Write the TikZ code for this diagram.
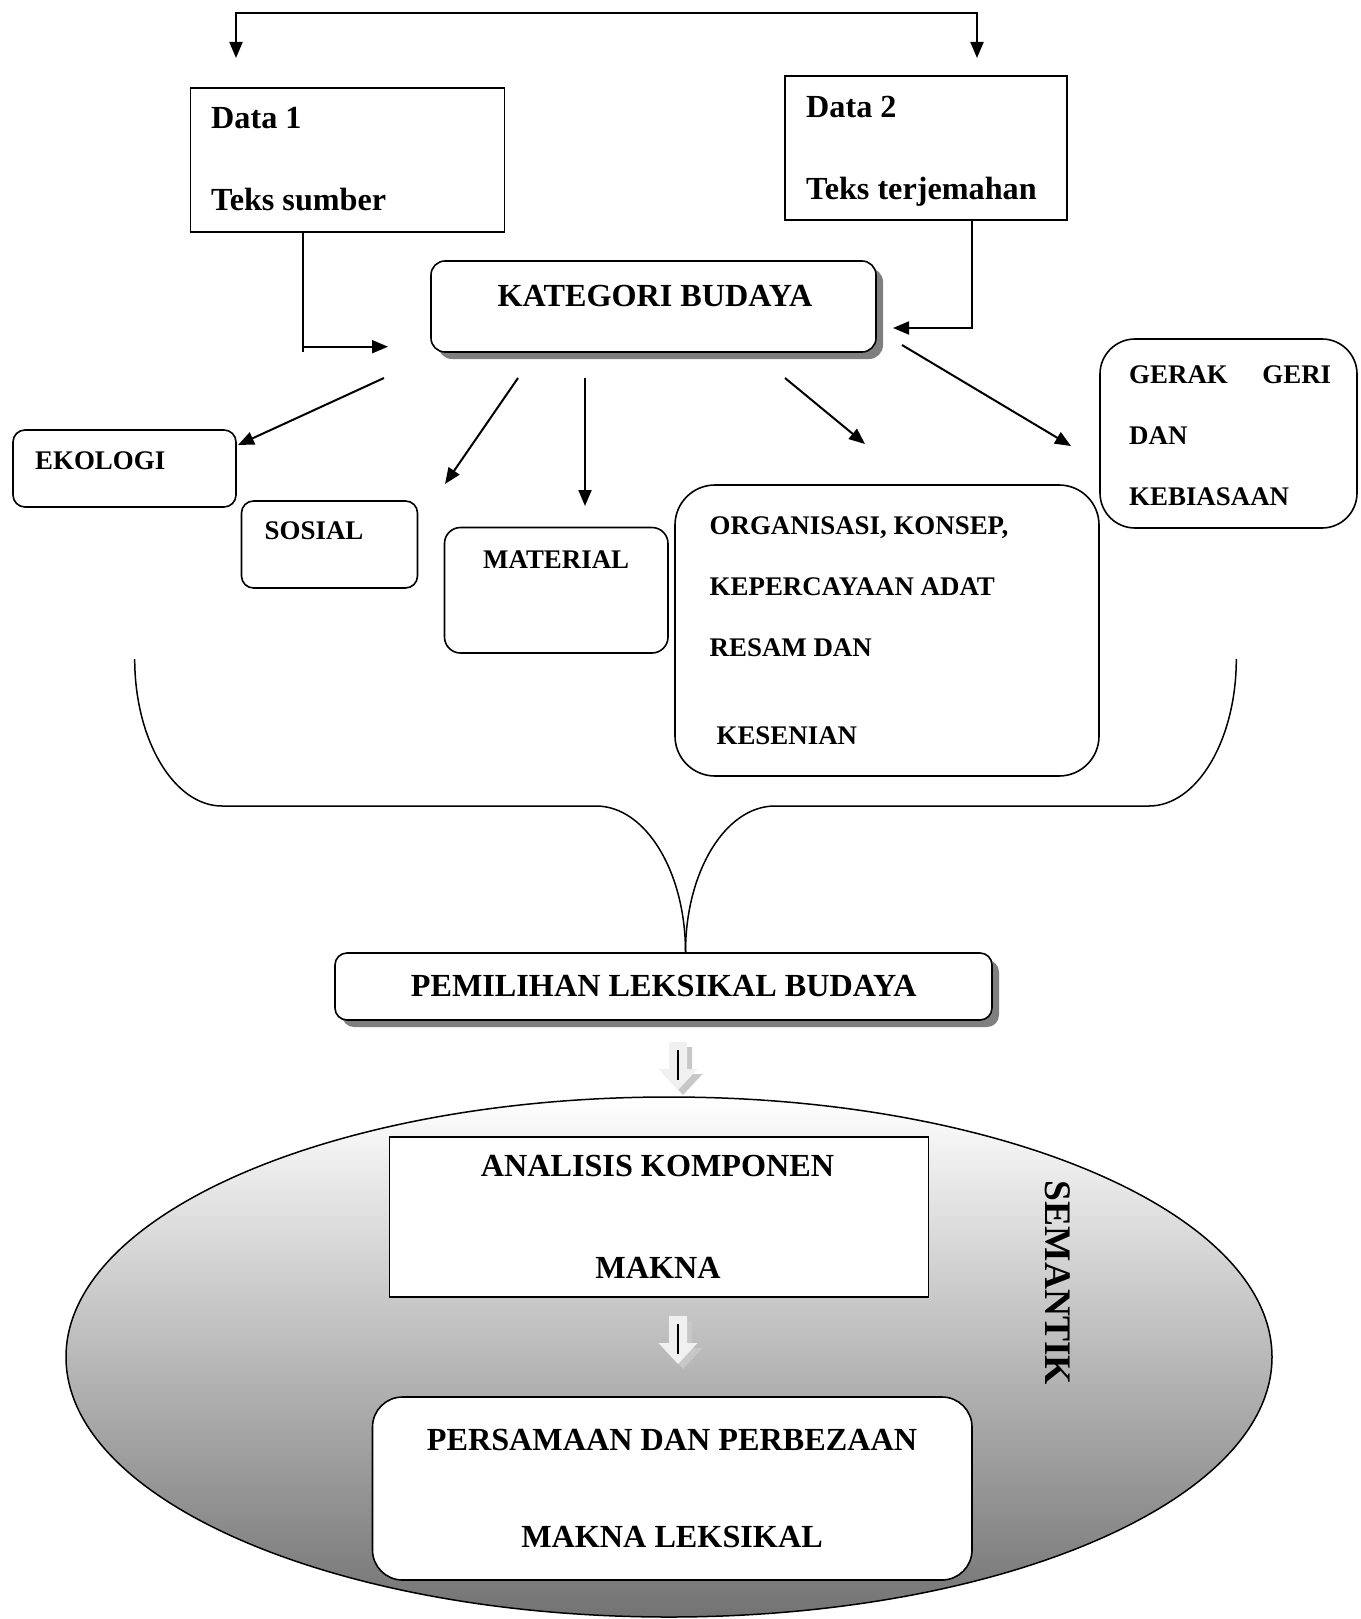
\documentclass[tikz,border=0pt]{standalone}
\usepackage{fontspec}
\setmainfont{Liberation Serif}
\usetikzlibrary{arrows.meta,shapes.geometric,shadows}
\begin{document}
\begin{tikzpicture}[x=1pt,y=-1pt,
  box/.style={draw, line width=1.6pt, fill=white, inner sep=0pt},
  rbox/.style={box, rounded corners=#1},
  shad/.style={drop shadow={shadow xshift=7pt, shadow yshift=-7pt, fill=black, opacity=0.5}},
  tip/.style={-{Triangle[length=16pt,width=13pt]}},
  arr/.style={line width=2pt, tip},
  tb/.style={inner sep=0pt, text height=21.3pt, text depth=0pt, font=\fontsize{32.2}{36}\selectfont\bfseries},
  ts/.style={inner sep=0pt, text height=17.8pt, text depth=0pt, font=\fontsize{26.9}{30}\selectfont\bfseries},
  harrow/.pic={
    \fill[black!22] (-4,5) -- (14,5) -- (14,32) -- (24.5,32) -- (5,53) -- (-14.5,32) -- (-4,32) -- cycle;
    \fill[black!6] (-9,0) -- (9,0) -- (9,27) -- (19.5,27) -- (0,48) -- (-19.5,27) -- (-9,27) -- cycle;
    \draw[line width=1.2pt] (0,8) -- (0,38);
  }]
\useasboundingbox (0,0) rectangle (1360,1619);

% top loop and data boxes
\coordinate (lt) at (236,58);
\coordinate (rt) at (977,58);
\draw[line width=2pt, {Triangle[length=16pt,width=13pt]}-{Triangle[length=16pt,width=13pt]}] (lt) -- ++(0,-45) -| (rt);

\node[box, line width=1.5pt, minimum width=314pt, minimum height=144pt] (d1) at (347.5,160) {};
\node[tb, anchor=west] (d1a) at (211,118) {Data 1};
\node[tb, anchor=west] (d1b) at (211,200) {Teks sumber};

\node[box, line width=1.5pt, minimum width=282pt, minimum height=144pt] (d2) at (926,148) {};
\node[tb, anchor=west] (d2a) at (806,106.5) {Data 2};
\node[tb, anchor=west] (d2b) at (806,189) {Teks terjemahan};

% kategori
\node[rbox=14pt, shad, minimum width=445pt, minimum height=91pt] (kat) at (653.5,306.5) {};
\node[tb] (katt) at (655,296) {KATEGORI BUDAYA};

\coordinate (k1) at (388,346.7);
\coordinate (k2) at (893,328);
\draw[arr] ([xshift=-44.5pt]d1.south) |- (k1);
\draw[line width=2pt] (k1 -| d1a.west) ++(92,0) -- ++(0,5.5);
\draw[arr] ([xshift=46pt]d2.south) |- (k2);

% category arrows
\coordinate (s1) at (384,378);  \coordinate (e1) at (238,445);
\coordinate (s2) at (518,378);  \coordinate (e2) at (445,484);
\coordinate (s3) at (585,378);  \coordinate (e3) at (585,506);
\coordinate (s4) at (785,378);  \coordinate (e4) at (865,444);
\coordinate (s5) at (902,345);  \coordinate (e5) at (1071,446);
\foreach \i in {1,...,5} { \draw[arr] (s\i) -- (e\i); }

% category boxes
\node[rbox=12pt, minimum width=223pt, minimum height=77pt] (eko) at (124.5,468.5) {};
\node[ts, anchor=west] (ekot) at (35,460.5) {EKOLOGI};

\node[rbox=12pt, minimum width=176pt, minimum height=87pt] (sos) at (329.5,544.5) {};
\node[ts, anchor=west] (sost) at (264.5,530.5) {SOSIAL};

\node[rbox=16pt, minimum width=223.5pt, minimum height=125.5pt] (mat) at (556.25,590.25) {};
\node[ts, anchor=west] (matt) at (483,560) {MATERIAL};

\node[rbox=40pt, minimum width=424pt, minimum height=291pt] (org) at (887,630.5) {};
\node[ts, anchor=west] (org1) at (709.5,526) {ORGANISASI, KONSEP,};
\node[ts, anchor=west] (org2) at (709.5,586.5) {KEPERCAYAAN ADAT};
\node[ts, anchor=west] (org3) at (709.5,648) {RESAM DAN};
\node[ts, anchor=west] (org4) at (716.4,736) {KESENIAN};

\node[rbox=35pt, minimum width=257pt, minimum height=189pt] (ger) at (1228.5,433.5) {};
\node[ts, anchor=west, text width=202pt] (ger1) at (1129,375) {GERAK\hfill GERI};
\node[ts, anchor=west] (ger2) at (1129,435.5) {DAN};
\node[ts, anchor=west] (ger3) at (1129,496.5) {KEBIASAAN};

% pemilihan
\node[rbox=12pt, shad, minimum width=657pt, minimum height=67pt] (pem) at (663.5,986.5) {};
\node[tb] (pemt) at (663.8,985.7) {PEMILIHAN LEKSIKAL BUDAYA};

% brace
\coordinate (brtip) at (pem.north -| 685.5,0);
\draw[line width=1.5pt] (134.7,659) .. controls (134.7,740) and (174,806) .. (222,806)
  -- (596,806) .. controls (645.7,806) and (685.5,872) .. (brtip);
\draw[line width=1.5pt] (1236.3,659) .. controls (1236.3,740) and (1197,806) .. (1149,806)
  -- (775,806) .. controls (725.3,806) and (685.5,872) .. (brtip);

% semantik ellipse
\node[ellipse, draw, line width=1.5pt, minimum width=1206pt, minimum height=520pt, inner sep=0pt,
  top color=white, middle color=black!17, bottom color=black!55] (sem) at (669,1357) {};
\node[inner sep=0pt, rotate=-90, font=\fontsize{37.5}{40}\selectfont\bfseries] (semt) at (1058,1283) {SEMANTIK};

\pic at (678,1042) {harrow};

\node[box, line width=1.5pt, minimum width=539pt, minimum height=160pt] (ana) at (659,1217) {};
\node[tb] (ana1) at (657.5,1165.5) {ANALISIS KOMPONEN};
\node[tb] (ana2) at (658,1268) {MAKNA};

\pic at (678,1316) {harrow};

\node[rbox=30pt, minimum width=599.5pt, minimum height=183pt] (per) at (672.25,1488.5) {};
\node[tb] (per1) at (672,1440) {PERSAMAAN DAN PERBEZAAN};
\node[tb] (per2) at (672,1537) {MAKNA LEKSIKAL};
\end{tikzpicture}
\end{document}
